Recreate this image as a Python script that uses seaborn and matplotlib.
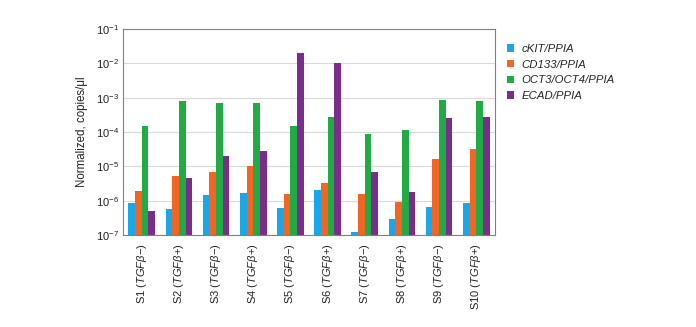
import numpy as np
import pandas as pd
import matplotlib
matplotlib.use("Agg")
import matplotlib.pyplot as plt
import seaborn as sns

samples = ["S1 ($\\mathit{TGF\\beta}$−)", "S2 ($\\mathit{TGF\\beta}$+)", "S3 ($\\mathit{TGF\\beta}$−)",
           "S4 ($\\mathit{TGF\\beta}$+)", "S5 ($\\mathit{TGF\\beta}$−)", "S6 ($\\mathit{TGF\\beta}$+)",
           "S7 ($\\mathit{TGF\\beta}$−)", "S8 ($\\mathit{TGF\\beta}$+)", "S9 ($\\mathit{TGF\\beta}$−)",
           "S10 ($\\mathit{TGF\\beta}$+)"]
markers = ["cKIT/PPIA", "CD133/PPIA", "OCT3/OCT4/PPIA", "ECAD/PPIA"]
ckit = [8.9e-7, 5.9e-7, 1.44e-6, 1.67e-6, 6.0e-7, 2.05e-6, 1.23e-7, 3.0e-7, 6.8e-7, 8.9e-7]
cd133 = [1.95e-6, 5.4e-6, 6.9e-6, 1.0e-5, 1.6e-6, 3.2e-6, 1.54e-6, 9.5e-7, 1.6e-5, 3.3e-5]
oct4 = [1.55e-4, 7.8e-4, 7.2e-4, 6.9e-4, 1.55e-4, 2.8e-4, 8.9e-5, 1.15e-4, 8.7e-4, 8.3e-4]
ecad = [5.1e-7, 4.6e-6, 1.95e-5, 2.9e-5, 1.95e-2, 1.0e-2, 7.1e-6, 1.86e-6, 2.5e-4, 2.7e-4]
colors = ["#1AA7E8", "#F26522", "#22AA44", "#7B2D8E"]

rows = []
for m, vals in zip(markers, [ckit, cd133, oct4, ecad]):
    for s, v in zip(samples, vals):
        rows.append({"sample": s, "marker": m, "value": v})
df = pd.DataFrame(rows)

sns.set_style("white")
plt.rcParams["font.family"] = ["Liberation Sans", "DejaVu Sans"]
plt.rcParams["mathtext.fontset"] = "custom"
plt.rcParams["mathtext.rm"] = "Liberation Sans"
plt.rcParams["mathtext.it"] = "Liberation Sans:italic"
plt.rcParams["mathtext.bf"] = "Liberation Sans:bold"

fig = plt.figure(figsize=(6.96, 3.27), dpi=100)
ax = fig.add_axes([0.177, 0.281, 0.534, 0.630])
ax.set_yscale("log")
sns.barplot(data=df, x="sample", y="value", hue="marker", palette=colors,
            width=0.72, gap=0.0, ax=ax, saturation=1, linewidth=0)
ax.set_ylim(1e-7, 1e-1)
ax.set_xlim(-0.5, len(samples) - 0.5)
ax.yaxis.grid(True, which="major", color="#d9d9d9", linewidth=0.8)
ax.set_axisbelow(True)
for sp in ax.spines.values():
    sp.set_color("#808080")
    sp.set_linewidth(0.8)
ax.tick_params(axis="both", length=0, labelsize=8, colors="#222222", pad=3)
ax.tick_params(axis="x", rotation=90, pad=6)
ax.set_xlabel("")
ax.set_ylabel("Normalized, copies/μl", fontsize=8.3, color="#222222", labelpad=6)
ax.minorticks_off()

handles, labels = ax.get_legend_handles_labels()
leg = ax.legend(handles, labels, loc="upper left", bbox_to_anchor=(1.02, 0.95),
                frameon=False, prop={"style": "italic", "size": 8.2},
                handlelength=0.6, handleheight=0.6, handletextpad=0.7,
                labelspacing=0.5, borderaxespad=0)
fig.savefig("out.png", dpi=100)
